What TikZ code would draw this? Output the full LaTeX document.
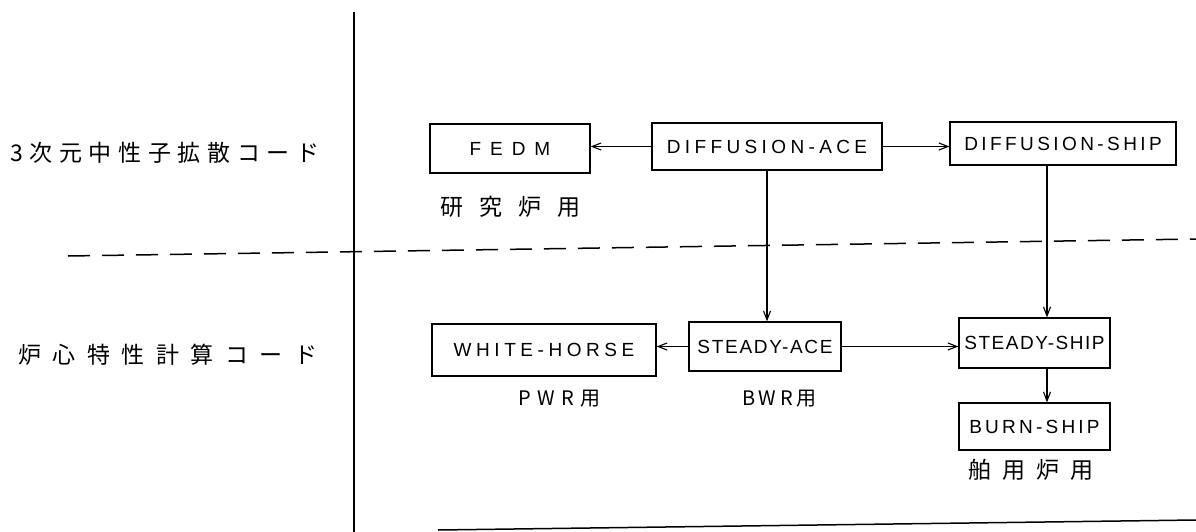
\documentclass[tikz,border=0pt]{standalone}
\usepackage{fontspec}
\setmainfont{Liberation Sans}
\newfontfamily\jp{Noto Sans CJK JP}
\usetikzlibrary{arrows.meta}
\newcommand\lsp[2]{{\addfontfeature{LetterSpace=#1}#2}}
\begin{document}
\begin{tikzpicture}[x=1pt,y=-1pt,
  box/.style={draw, line width=1.2pt, inner sep=0pt, font=\fontsize{19}{21}\selectfont},
  arr/.style={line width=1.1pt, -{Straight Barb[length=9pt,width=7pt,line width=1.1pt]}},
  rulel/.style={line width=1.5pt},
  jlab/.style={anchor=west, inner sep=0pt, font=\jp\fontsize{23}{25}\selectfont},
  slab/.style={anchor=west, inner sep=0pt, font=\jp\fontsize{20}{22}\selectfont}]
\useasboundingbox (0,0) rectangle (1196,532);
% frame rules
\coordinate (vt) at (354,12);
\coordinate (vb) at (354,532);
\draw[rulel] (vt) -- (vb);
\coordinate (dl) at (68,256);
\coordinate (dr) at (1196,239);
\draw[rulel, dash pattern=on 22pt off 12pt] (dl) -- (dr);
\coordinate (bl) at (438,530);
\coordinate (br) at (1196,520);
\draw[rulel] (bl) -- (br);
% row labels
\node[jlab] (row1) at (10,153) {\lsp{29}{3次元中性子拡散コード}};
\node[jlab] (row2) at (18,355) {\lsp{50}{炉心特性計算コード}};
% boxes
\node[box, minimum width=160pt, minimum height=49pt] (fedm) at (510,148.5) {\lsp{47}{FEDM}};
\node[box, minimum width=230pt, minimum height=47pt] (dace) at (767,146.5) {\lsp{23}{DIFFUSION-ACE}};
\node[box, minimum width=226pt, minimum height=43pt] (dship) at (1063,143.5) {\lsp{18}{DIFFUSION-SHIP}};
\node[box, minimum width=224pt, minimum height=52pt] (wh) at (544,350) {\lsp{24}{WHITE-HORSE}};
\node[box, minimum width=152pt, minimum height=49pt] (sace) at (765,346.5) {\lsp{9}{STEADY-ACE}};
\node[box, minimum width=151pt, minimum height=50pt] (sship) at (1034.5,343) {\lsp{8}{STEADY-SHIP}};
\node[box, minimum width=151pt, minimum height=47pt] (burn) at (1034.5,426.5) {\lsp{17}{BURN-SHIP}};
% sub labels
\node[jlab] (kenkyu) at (440,207) {\lsp{70}{研究炉用}};
\node[slab] (pwr) at (518,399) {\lsp{33}{PWR用}};
\node[slab] (bwr) at (742,399) {\lsp{18}{BWR用}};
\node[jlab] (hakuyo) at (968,470) {\lsp{48}{舶用炉用}};
% connectors
\draw[arr] (dace.west) -- (dace.west -| fedm.east);
\draw[arr] (dace.east) -- (dace.east -| dship.west);
\draw[arr] (dace.south) -- (dace.south |- sace.north);
\draw[arr] ([xshift=-16pt]dship.south) -- ([xshift=-16pt]dship.south |- sship.north);
\draw[arr] (sace.west) -- (sace.west -| wh.east);
\draw[arr] (sace.east) -- (sace.east -| sship.west);
\draw[arr] ([xshift=12.5pt]sship.south) -- ([xshift=12.5pt]sship.south |- burn.north);
\end{tikzpicture}
\end{document}
